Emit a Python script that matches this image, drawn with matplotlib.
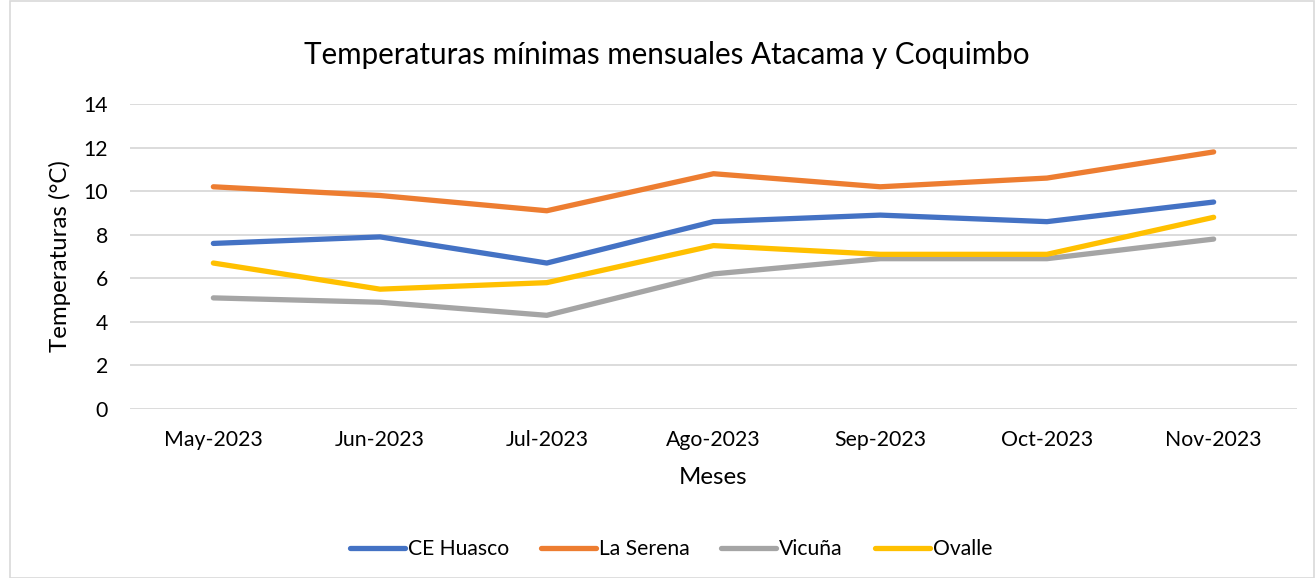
import matplotlib
matplotlib.use("Agg")
import matplotlib.pyplot as plt
from matplotlib.patches import Rectangle

plt.rcParams['font.family'] = ['Lato', 'DejaVu Sans']

meses = ['May-2023', 'Jun-2023', 'Jul-2023', 'Ago-2023', 'Sep-2023', 'Oct-2023', 'Nov-2023']
ce_huasco = [7.6, 7.9, 6.7, 8.6, 8.9, 8.6, 9.5]
la_serena = [10.2, 9.8, 9.1, 10.8, 10.2, 10.6, 11.8]
vicuna = [5.1, 4.9, 4.3, 6.2, 6.9, 6.9, 7.8]
ovalle = [6.7, 5.5, 5.8, 7.5, 7.1, 7.1, 8.8]

series = [
    ('CE Huasco', ce_huasco, '#4472C4'),
    ('La Serena', la_serena, '#ED7D31'),
    ('Vicuña', vicuna, '#A5A5A5'),
    ('Ovalle', ovalle, '#FFC000'),
]

W, H = 1315, 578
fig = plt.figure(figsize=(W / 100, H / 100), dpi=100)
ax = fig.add_axes([130 / W, 1 - 409 / H, 1167 / W, 305 / H])

x = range(len(meses))
for name, vals, color in series:
    ax.plot(x, vals, color=color, lw=3.8, label=name, solid_capstyle='round',
            solid_joinstyle='round')

ax.set_xlim(-0.5, len(meses) - 0.5)
ax.set_ylim(0, 14)
ax.set_yticks(range(0, 15, 2))
ax.set_xticks(list(x))
ax.set_xticklabels(meses)
ax.grid(axis='y', color='#d9d9d9', lw=1.3)
ax.set_axisbelow(True)
for s in ax.spines.values():
    s.set_visible(False)
ax.tick_params(length=0, labelsize=15.3, colors='#000000')
ax.tick_params(axis='x', pad=15)
ax.tick_params(axis='y', pad=16)

fig.text(667 / W, 1 - 55 / H, 'Temperaturas mínimas mensuales Atacama y Coquimbo',
         fontsize=21.3, ha='center', va='center')
ax.set_xlabel('Meses', fontsize=17.3, labelpad=12)
ax.set_ylabel('Temperaturas (°C)', fontsize=17.3, labelpad=9)

fig.legend(*ax.get_legend_handles_labels(), loc='center',
           bbox_to_anchor=(671 / W, 1 - 549 / H), ncol=4, frameon=False,
           fontsize=15.2, handlelength=2.6, handletextpad=0.15, columnspacing=1.5)

# thin border around the whole chart
fig.patches.append(Rectangle((10 / W, 0), 1 - 11 / W, 1 - 1 / H,
                             transform=fig.transFigure, fill=False,
                             edgecolor='#d9d9d9', lw=1.2))

fig.savefig('out.png', dpi=100)
